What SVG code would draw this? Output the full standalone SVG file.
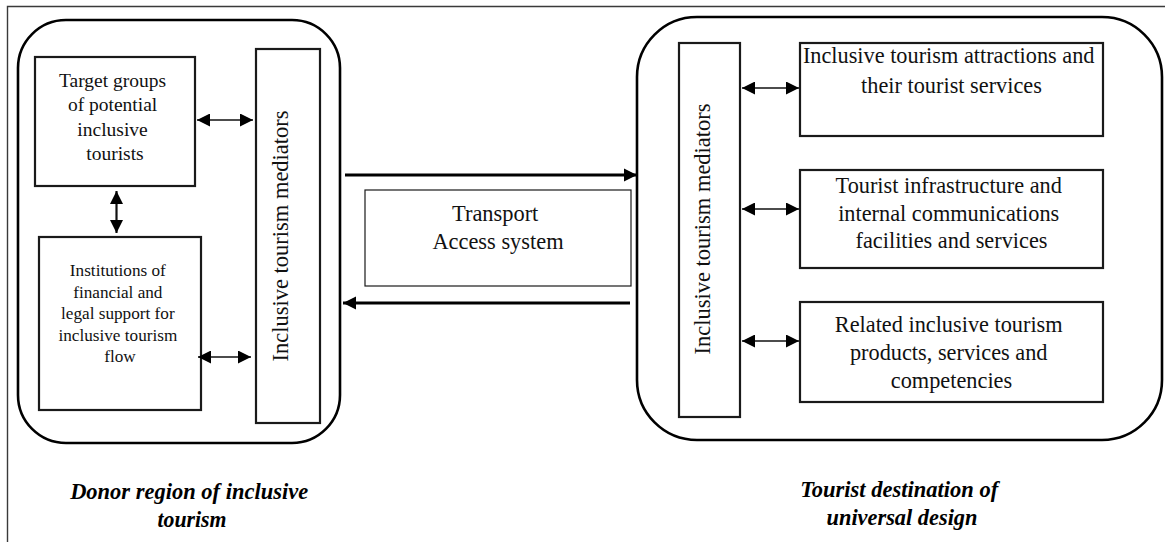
<svg xmlns="http://www.w3.org/2000/svg" width="1165" height="542" viewBox="0 0 1165 542">
  <style>
    .frame { stroke: #3a3a3a; stroke-width: 1.4; fill: none; }
    .region { fill: none; stroke: #000; stroke-width: 2.6; }
    .box { fill: #fff; stroke: #1a1a1a; stroke-width: 2.2; }
    .thin { fill: #fff; stroke: #1a1a1a; stroke-width: 1.2; }
    .lbl { font-family: "Liberation Serif", "Times New Roman", serif; fill: #111; text-anchor: middle; }
    .cap { font-family: "Liberation Serif", "Times New Roman", serif; font-weight: bold; font-style: italic; fill: #000; text-anchor: middle; }
    .link { stroke: #111; stroke-width: 1.6; fill: none; marker-start: url(#head); marker-end: url(#head); }
    .flow { stroke: #000; stroke-width: 3; fill: none; marker-end: url(#bighead); }
  </style>
  <defs>
    <marker id="head" viewBox="0 0 10 10" refX="10" refY="5" markerWidth="14" markerHeight="13" markerUnits="userSpaceOnUse" orient="auto-start-reverse">
      <path d="M0,0 L10,5 L0,10 z" fill="#000"/>
    </marker>
    <marker id="bighead" viewBox="0 0 10 10" refX="10" refY="5" markerWidth="13" markerHeight="15" markerUnits="userSpaceOnUse" orient="auto">
      <path d="M0,0 L10,5 L0,10 z" fill="#000"/>
    </marker>
  </defs>

  <rect width="1165" height="542" fill="#fff"/>
  <!-- page frame (top and left rules) -->
  <path class="frame" d="M7.5,542 V6.5 H1165"/>

  <!-- donor region -->
  <g id="donor-region">
    <rect class="region" x="18" y="20" width="322" height="423" rx="48" ry="48"/>
  </g>

  <g id="target-groups">
    <rect class="box" x="35" y="57" width="160" height="129"/>
    <text class="lbl" font-size="19.5">
      <tspan x="115" y="87">Target groups</tspan>
      <tspan x="115" y="111">of potential</tspan>
      <tspan x="115" y="135.5">inclusive</tspan>
      <tspan x="115" y="160">tourists</tspan>
    </text>
  </g>

  <g id="institutions">
    <rect class="box" x="39" y="237" width="162" height="173"/>
    <text class="lbl" font-size="17.2">
      <tspan x="120" y="276">Institutions of</tspan>
      <tspan x="120" y="297.5">financial and</tspan>
      <tspan x="120" y="319">legal support for</tspan>
      <tspan x="120" y="340.5">inclusive tourism</tspan>
      <tspan x="120" y="362">flow</tspan>
    </text>
  </g>

  <g id="mediators-donor">
    <rect class="box" x="256" y="49" width="64" height="374"/>
    <text class="lbl" font-size="22.5" transform="translate(288,236) rotate(-90)" x="0" y="0">Inclusive tourism mediators</text>
  </g>

  <!-- transport between regions -->
  <g id="transport">
    <rect class="thin" x="365" y="190" width="266" height="96"/>
    <text class="lbl" font-size="22.4">
      <tspan x="498" y="221">Transport</tspan>
      <tspan x="498" y="249">Access system</tspan>
    </text>
  </g>

  <!-- destination region -->
  <g id="destination-region">
    <rect class="region" x="637" y="17" width="525" height="423" rx="60" ry="60"/>
  </g>

  <g id="mediators-destination">
    <rect class="box" x="679" y="43" width="61" height="374"/>
    <text class="lbl" font-size="22.5" transform="translate(710,229) rotate(-90)" x="0" y="0">Inclusive tourism mediators</text>
  </g>

  <g id="attractions">
    <rect class="box" x="800" y="43" width="303" height="93"/>
    <text class="lbl" font-size="22.3">
      <tspan x="951.5" y="63">Inclusive tourism attractions and</tspan>
      <tspan x="951.5" y="93">their tourist services</tspan>
    </text>
  </g>

  <g id="infrastructure">
    <rect class="box" x="800" y="170" width="303" height="98"/>
    <text class="lbl" font-size="22.3">
      <tspan x="951.5" y="193">Tourist infrastructure and</tspan>
      <tspan x="951.5" y="221">internal communications</tspan>
      <tspan x="951.5" y="248">facilities and services</tspan>
    </text>
  </g>

  <g id="related-products">
    <rect class="box" x="800" y="302" width="303" height="100"/>
    <text class="lbl" font-size="22.3">
      <tspan x="951.5" y="332">Related inclusive tourism</tspan>
      <tspan x="951.5" y="360">products, services and</tspan>
      <tspan x="951.5" y="388">competencies</tspan>
    </text>
  </g>

  <!-- connectors -->
  <g id="connectors">
    <line class="link" x1="197" y1="120" x2="253" y2="120"/>
    <line class="link" x1="116.5" y1="191" x2="116.5" y2="233" style="stroke-width:2.2"/>
    <line class="link" x1="198" y1="357" x2="251" y2="357"/>
    <line class="flow" x1="345" y1="175" x2="637" y2="175"/>
    <line class="flow" x1="630" y1="303" x2="343" y2="303"/>
    <line class="link" x1="742" y1="88" x2="799" y2="88"/>
    <line class="link" x1="742" y1="209" x2="799" y2="209"/>
    <line class="link" x1="742" y1="341" x2="799" y2="341"/>
  </g>

  <!-- region captions (condensed bold italic) -->
  <g id="captions">
    <text class="cap" font-size="23">
      <tspan x="192" y="499" textLength="238" lengthAdjust="spacingAndGlyphs">Donor region of inclusive</tspan>
      <tspan x="192" y="527" textLength="69" lengthAdjust="spacingAndGlyphs">tourism</tspan>
    </text>
    <text class="cap" font-size="23">
      <tspan x="902" y="497" textLength="198" lengthAdjust="spacingAndGlyphs">Tourist destination of</tspan>
      <tspan x="902" y="525" textLength="151" lengthAdjust="spacingAndGlyphs">universal design</tspan>
    </text>
  </g>
</svg>
